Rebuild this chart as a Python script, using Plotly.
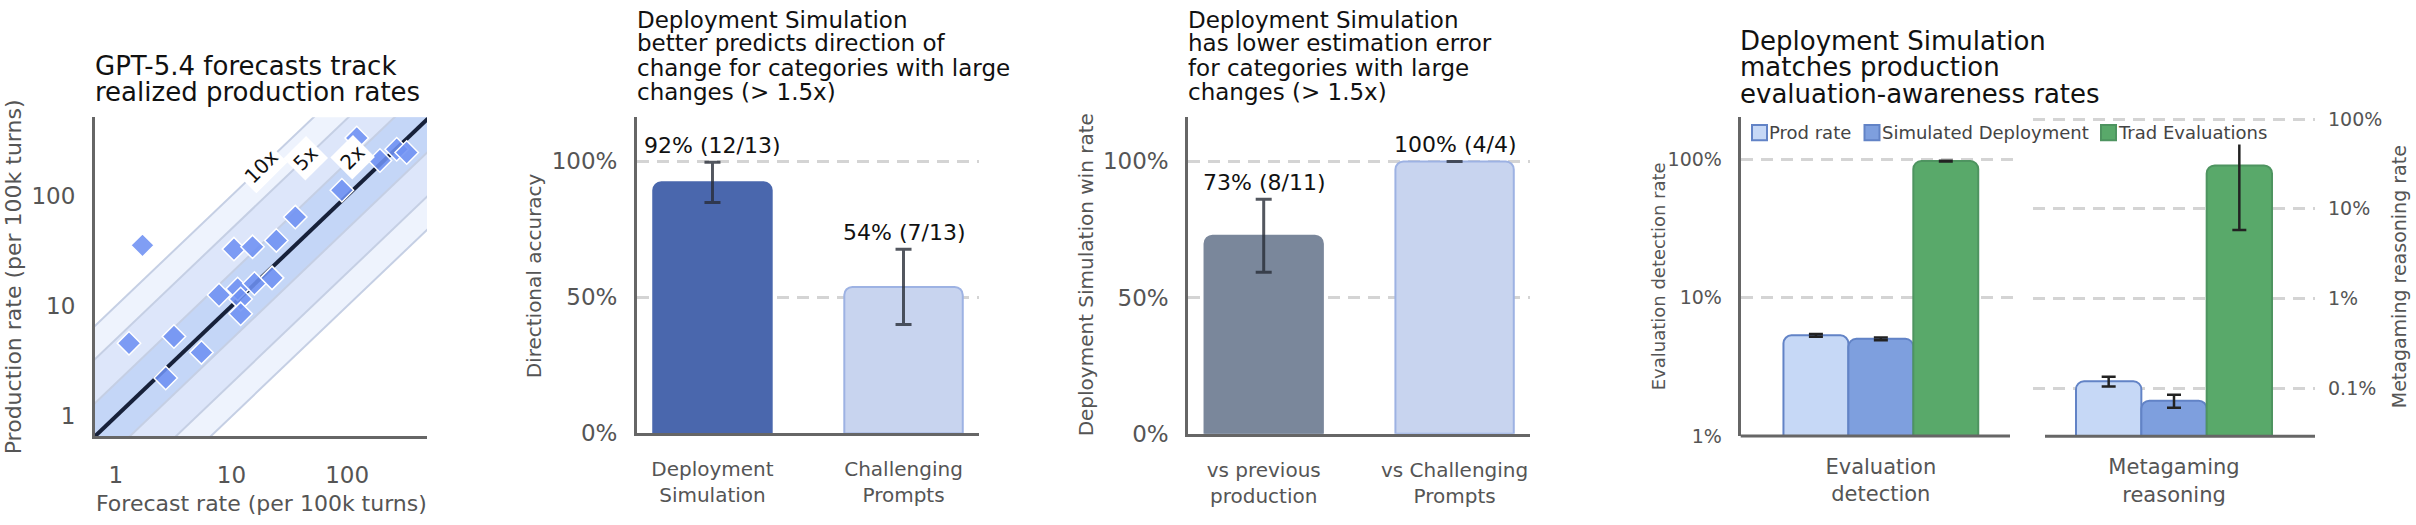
import math
import plotly.graph_objects as go

W, H = 2416, 525
FONT = "DejaVu Sans"
GRAY = "#555555"
AXIS = "#666666"

def fx(px):
    return px / W

def fy(py):
    return 1 - py / H

# ---------------- Panel 1 data ----------------
forecast = [1.70, 1.30, 2.70, 3.18, 5.5, 7.8, 10.5, 11.3, 12.0, 12.0,
            15.2, 15.8, 22.4, 24.4, 35.6, 90, 192, 268, 327, 121]
production = [35.5, 4.6, 2.23, 5.3, 3.8, 12.6, 32.8, 14.3, 11.6, 8.5,
              34.4, 16.0, 18.0, 39.3, 64, 112, 208, 263, 246, 333]
band_factors = [10, 5, 2]
band_labels = ["10x", "5x", "2x"]
band_label_x = [18, 44, 112]
band_fills = ["#eef3fd", "#dde6fa", "#c4d6f7"]
p1_ticks = [1, 10, 100]
p1_tick_text = ["1", "10", "100"]

# ---------------- Panel 2 data ----------------
p2_categories = ["Deployment<br>Simulation", "Challenging<br>Prompts"]
p2_hits = [12, 7]
p2_totals = [13, 13]
p2_err = [0.074, 0.138]
p2_colors = ["#4a67ad", "#c8d4ef"]
p2_lines = ["#4a67ad", "#9db2e3"]

# ---------------- Panel 3 data ----------------
p3_categories = ["vs previous<br>production", "vs Challenging<br>Prompts"]
p3_hits = [8, 4]
p3_totals = [11, 4]
p3_err = [0.134, 0.0]
p3_colors = ["#7a879b", "#c8d4ef"]
p3_lines = ["#7a879b", "#9db2e3"]

pct_ticks = [0, 0.5, 1.0]
pct_tick_text = ["0%", "50%", "100%"]

# ---------------- Panel 4 data ----------------
series_names = ["Prod rate", "Simulated Deployment", "Trad Evaluations"]
series_fill = ["#c6d8f6", "#7e9fde", "#59a96a"]
series_line = ["#6283c6", "#6283c6", "#4e9460"]
eval_category = ["Evaluation<br>detection"]
meta_category = ["Metagaming<br>reasoning"]
eval_values = [0.0534, 0.0504, 0.97]
eval_err = [0.0012, 0.0012, 0.006]
meta_values = [0.00120, 0.00073, 0.304]
meta_err = [0.00015, 0.00012, 0.246]
eval_ticks = [0.01, 0.1, 1]
eval_tick_text = ["1%", "10%", "100%"]
meta_ticks = [0.001, 0.01, 0.1, 1]
meta_tick_text = ["0.1%", "1%", "10%", "100%"]

fig = go.Figure()

# ---- Panel 1 traces ----
lo, hi = 0.1, 5000
for k, col in zip(band_factors, band_fills):
    fig.add_trace(go.Scatter(
        x=[lo, hi, hi, lo, lo], y=[lo * k, hi * k, hi / k, lo / k, lo * k],
        fill="toself", fillcolor=col, line=dict(width=0), mode="lines",
        xaxis="x", yaxis="y", hoverinfo="skip"))
for k in band_factors:
    for f in (k, 1 / k):
        fig.add_trace(go.Scatter(
            x=[lo, hi], y=[lo * f, hi * f], mode="lines",
            line=dict(color="#c5cfe4", width=2), xaxis="x", yaxis="y",
            hoverinfo="skip"))
fig.add_trace(go.Scatter(x=[lo, hi], y=[lo, hi], mode="lines",
                         line=dict(color="#17213a", width=4),
                         xaxis="x", yaxis="y"))
fig.add_trace(go.Scatter(
    x=forecast, y=production, mode="markers", xaxis="x", yaxis="y",
    marker=dict(symbol="diamond", size=18, color="rgba(110,145,242,0.88)",
                line=dict(color="white", width=1.5))))

# ---- Panel 2 & 3 bars ----
def pct_bar(cats, hits, totals, err, colors, lines, xa, ya):
    vals = [h / t for h, t in zip(hits, totals)]
    fig.add_trace(go.Bar(
        x=cats, y=vals, width=0.62, xaxis=xa, yaxis=ya,
        marker=dict(color=colors, line=dict(color=lines, width=2)),
        error_y=dict(type="data", array=err, color="rgba(40,45,55,0.8)",
                     thickness=3, width=8)))
    anns = []
    for i, (h, t) in enumerate(zip(hits, totals)):
        anns.append(dict(
            x=i, y=vals[i] + err[i], xref=xa, yref=ya,
            text=f"{round(100 * h / t)}% ({h}/{t})", showarrow=False,
            yanchor="bottom", yshift=2,
            font=dict(family=FONT, size=22, color="#111111")))
    return anns

annotations = []
annotations += pct_bar(p2_categories, p2_hits, p2_totals, p2_err,
                       p2_colors, p2_lines, "x2", "y2")
annotations += pct_bar(p3_categories, p3_hits, p3_totals, p3_err,
                       p3_colors, p3_lines, "x3", "y3")

# ---- Panel 4 bars ----
for i, name in enumerate(series_names):
    fig.add_trace(go.Bar(
        x=eval_category, y=[eval_values[i]], name=name, offsetgroup=str(i),
        xaxis="x4", yaxis="y4",
        marker=dict(color=series_fill[i], line=dict(color=series_line[i], width=2)),
        error_y=dict(type="data", array=[eval_err[i]], color="#222222",
                     thickness=2.5, width=7)))
    fig.add_trace(go.Bar(
        x=meta_category, y=[meta_values[i]], name=name, offsetgroup=str(i),
        xaxis="x5", yaxis="y5",
        marker=dict(color=series_fill[i], line=dict(color=series_line[i], width=2)),
        error_y=dict(type="data", array=[meta_err[i]], color="#222222",
                     thickness=2.5, width=7)))

# ---- Axes ----
tickfont = dict(family=FONT, size=23, color=GRAY)
catfont = dict(family=FONT, size=20, color=GRAY)
grid = dict(showgrid=True, gridcolor="#d4d4d4", gridwidth=3, griddash="12px,8px")

layout_axes = dict(
    xaxis=dict(domain=[fx(95), fx(427)], anchor="y", type="log",
               range=[-0.18, 2.69], tickvals=p1_ticks, ticktext=p1_tick_text,
               showline=True, linecolor=AXIS, linewidth=3, showgrid=False,
               zeroline=False, ticks="", tickfont=tickfont,
               ticklabelstandoff=16),
    yaxis=dict(domain=[fy(446), fy(113)], anchor="x", type="log",
               range=[-0.18, 2.71], tickvals=p1_ticks, ticktext=p1_tick_text,
               showline=True, linecolor=AXIS, linewidth=3, showgrid=False,
               zeroline=False, ticks="", tickfont=tickfont,
               ticklabelstandoff=12),
    xaxis2=dict(domain=[fx(637), fx(979)], anchor="y2", type="category",
                range=[-0.395, 1.395], showline=True, linecolor=AXIS,
                linewidth=3, ticks="", tickfont=catfont, showgrid=False,
                ticklabelstandoff=16),
    yaxis2=dict(domain=[fy(443), fy(113)], anchor="x2", range=[0, 1.162],
                tickvals=pct_ticks, ticktext=pct_tick_text, showline=True,
                linecolor=AXIS, linewidth=3, zeroline=False, ticks="",
                tickfont=tickfont, ticklabelstandoff=12, **grid),
    xaxis3=dict(domain=[fx(1188.3), fx(1530)], anchor="y3", type="category",
                range=[-0.395, 1.395], showline=True, linecolor=AXIS,
                linewidth=3, ticks="", tickfont=catfont, showgrid=False,
                ticklabelstandoff=16),
    yaxis3=dict(domain=[fy(443.3), fy(113)], anchor="x3", range=[0, 1.162],
                tickvals=pct_ticks, ticktext=pct_tick_text, showline=True,
                linecolor=AXIS, linewidth=3, zeroline=False, ticks="",
                tickfont=tickfont, ticklabelstandoff=12, **grid),
    xaxis4=dict(domain=[fx(1740.7), fx(2021)], anchor="y4", type="category",
                range=[-0.5, 0.5], showline=False, ticks="",
                tickfont=dict(family=FONT, size=21, color=GRAY),
                showgrid=False, ticklabelstandoff=16),
    yaxis4=dict(domain=[fy(445.7), fy(113)], anchor="x4", type="log",
                range=[-2, 0.303], tickvals=eval_ticks, ticktext=eval_tick_text,
                showline=True, linecolor=AXIS, linewidth=3, zeroline=False,
                ticks="", tickfont=dict(family=FONT, size=19, color=GRAY),
                ticklabelstandoff=12, **grid),
    xaxis5=dict(domain=[fx(2033), fx(2315)], anchor="y5", type="category",
                range=[-0.5, 0.5], showline=False, ticks="",
                tickfont=dict(family=FONT, size=21, color=GRAY),
                showgrid=False, ticklabelstandoff=16),
    yaxis5=dict(domain=[fy(446), fy(113)], anchor="x5", type="log", side="right",
                range=[-3.534, 0.02], tickvals=meta_ticks, ticktext=meta_tick_text,
                showline=False, zeroline=False, ticks="",
                tickfont=dict(family=FONT, size=19, color=GRAY),
                ticklabelstandoff=12, **grid),
)

# ---- Band labels (panel 1) ----
for k, lbl, lx in zip(band_factors, band_labels, band_label_x):
    annotations.append(dict(
        x=math.log10(lx), y=math.log10(lx * k), xref="x", yref="y", text=lbl,
        showarrow=False, textangle=-45, bgcolor="white", borderpad=3,
        font=dict(family=FONT, size=20, color="#111111")))

# ---- Titles ----
def title_lines(lines, left, ys, size):
    for t, yy in zip(lines, ys):
        annotations.append(dict(
            x=fx(left), y=fy(yy), xref="paper", yref="paper", text=t,
            showarrow=False, xanchor="left", yanchor="middle",
            font=dict(family=FONT, size=size, color="#111111")))

title_lines(["GPT-5.4 forecasts track", "realized production rates"], 93, [59, 87], 26)
title_lines(["Deployment Simulation", "better predicts direction of",
             "change for categories with large", "changes (> 1.5x)"], 635, [11, 36, 62, 87], 23)
title_lines(["Deployment Simulation", "has lower estimation error",
             "for categories with large", "changes (> 1.5x)"], 1186, [11, 36, 62, 87], 23)
title_lines(["Deployment Simulation", "matches production",
             "evaluation-awareness rates"], 1738, [33, 61, 89], 26)

# ---- Axis titles ----
def axis_title(text, x, y, size, angle=0):
    annotations.append(dict(
        x=fx(x), y=fy(y), xref="paper", yref="paper", text=text,
        showarrow=False, textangle=angle, xanchor="center", yanchor="middle",
        font=dict(family=FONT, size=size, color=GRAY)))

axis_title("Forecast rate (per 100k turns)", 261, 516, 22)
axis_title("Production rate (per 100k turns)", 13, 280, 22, -90)
axis_title("Directional accuracy", 534, 279, 20, -90)
axis_title("Deployment Simulation win rate", 1086, 278, 20, -90)
axis_title("Evaluation detection rate", 1658, 279, 18, -90)
axis_title("Metagaming reasoning rate", 2399, 280, 19, -90)

# ---- Manual legend (panel 4) ----
shapes = []
shapes.append(dict(type="rect", xref="paper", yref="paper",
                   x0=fx(1745), x1=fx(2282), y0=fy(141.5), y1=fy(118),
                   fillcolor="white", line=dict(width=0), layer="above"))
legend_sym_x = [1752, 1864.5, 2101]
for i, name in enumerate(series_names):
    sx = legend_sym_x[i]
    shapes.append(dict(type="rect", xref="paper", yref="paper",
                       x0=fx(sx), x1=fx(sx + 15), y0=fy(137), y1=fy(121),
                       fillcolor=series_fill[i],
                       line=dict(color=series_line[i], width=2), layer="above"))
    annotations.append(dict(
        x=fx(sx + 16), y=fy(129), xref="paper", yref="paper", text=name,
        showarrow=False, xanchor="left", yanchor="middle", borderpad=0,
        font=dict(family=FONT, size=18, color="#444444")))

# ---- Panel 4 baselines ----
shapes.append(dict(type="line", xref="paper", yref="paper",
                   x0=fx(1740.7), x1=fx(2010), y0=fy(445.7), y1=fy(445.7),
                   line=dict(color=AXIS, width=3), layer="above"))
shapes.append(dict(type="line", xref="paper", yref="paper",
                   x0=fx(2045), x1=fx(2315), y0=fy(446), y1=fy(446),
                   line=dict(color=AXIS, width=3), layer="above"))

fig.update_layout(
    width=W, height=H, margin=dict(l=0, r=0, t=0, b=0),
    paper_bgcolor="white", plot_bgcolor="white", showlegend=False,
    barmode="group", bargap=0.305, bargroupgap=0, barcornerradius=8,
    font=dict(family=FONT),
    annotations=annotations, shapes=shapes, **layout_axes)

fig.write_html("out.html")
